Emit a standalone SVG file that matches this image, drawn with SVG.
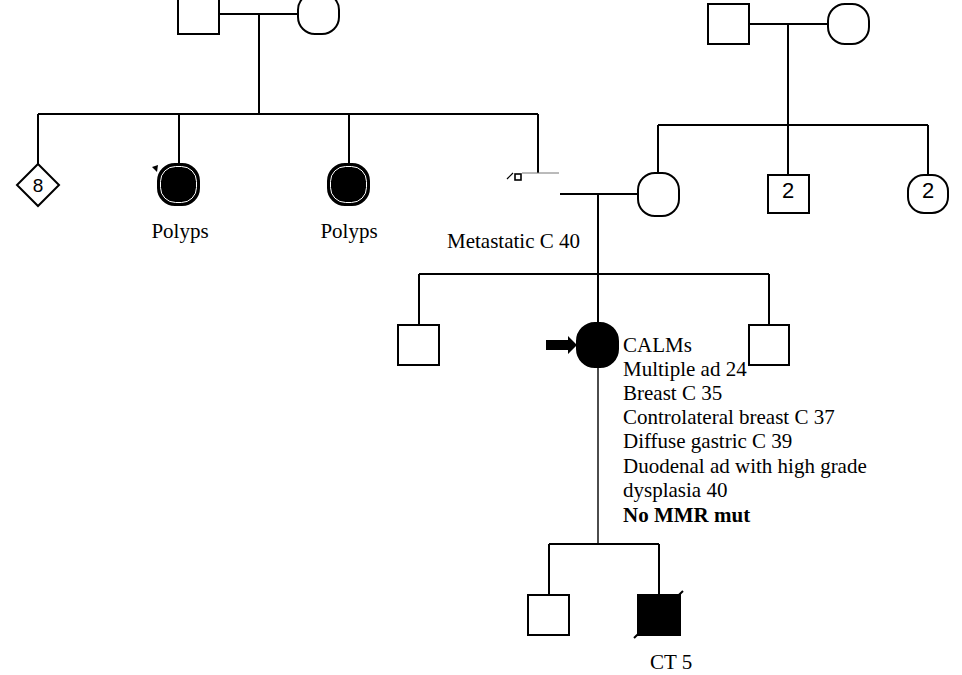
<svg xmlns="http://www.w3.org/2000/svg" width="962" height="675" viewBox="0 0 962 675">
<style>
.ln{stroke:#000;stroke-width:2;fill:none}
.thin{stroke:#000;stroke-width:1.4;fill:none}
.m{fill:#fff;stroke:#000;stroke-width:2}
.f{fill:#000;stroke:#000;stroke-width:2}
.t{font-family:"Liberation Serif","Times New Roman",serif;font-size:21px;fill:#000}
.s{font-family:"Liberation Sans",Arial,sans-serif;font-size:22px;fill:#000;text-anchor:middle}
</style>
<rect width="962" height="675" fill="#fff"/>
<g id="connectors">
<path class="ln" d="M219 14H298M259 14V114M38 114H538M38 114V164M179 114V164M349 114V164M538 114V173"/>
<path d="M522 173H559" stroke="#777" stroke-width="1"/>
<path class="ln" d="M560 194H638M598 194V323M419 274H769M419 274V325M769 274V325"/>
<path class="ln" d="M749 24H828M788 24V175M658 125H928M658 125V173M928 125V175"/>
<path class="thin" d="M598 367V544"/>
<path class="ln" d="M549 544H659M549 544V595M659 544V595"/>
</g>
<g id="gp1-father"><rect class="m" x="178" y="-7" width="41" height="41"/></g>
<g id="gp1-mother"><rect class="m" x="298" y="-7" width="41" height="41" rx="17"/></g>
<g id="gp2-father"><rect class="m" x="708" y="4" width="41" height="40"/></g>
<g id="gp2-mother"><rect class="m" x="828" y="4" width="41" height="40" rx="17"/></g>
<g id="sibs8"><path class="m" d="M38 164L59 185L38 206L17 185Z"/><text class="s" x="38" y="192" style="font-size:19px">8</text></g>
<g id="aunt1">
<path d="M152 167L158 165L157 172Z" fill="#000"/>
<rect class="f" x="158" y="164" width="41" height="41" rx="17"/>
<rect x="160.5" y="166.5" width="36" height="36" rx="15" fill="none" stroke="#fff" stroke-width="1"/>
<text class="t" x="180" y="238" text-anchor="middle">Polyps</text></g>
<g id="aunt2">
<rect class="f" x="328" y="164" width="41" height="41" rx="17"/>
<rect x="330.5" y="166.5" width="36" height="36" rx="15" fill="none" stroke="#fff" stroke-width="1"/>
<text class="t" x="349" y="238" text-anchor="middle">Polyps</text></g>
<g id="father">
<rect x="515" y="174" width="6" height="6" fill="#fff" stroke="#000" stroke-width="1.6"/>
<path d="M507 179L513 173" stroke="#000" stroke-width="1.2"/>
<text class="t" x="447" y="248">Metastatic C 40</text></g>
<g id="mother"><rect class="m" x="638" y="173" width="41" height="43" rx="17"/></g>
<g id="uncles2"><rect class="m" x="768" y="175" width="41" height="38"/><text class="s" x="788" y="198">2</text></g>
<g id="aunts2"><rect class="m" x="908" y="175" width="40" height="38" rx="16"/><text class="s" x="928" y="198">2</text></g>
<g id="brother1"><rect class="m" x="398" y="325" width="41" height="40"/></g>
<g id="brother2"><rect class="m" x="749" y="325" width="40" height="40"/></g>
<g id="proband">
<rect class="f" x="577" y="323" width="41" height="44" rx="18"/>
<path d="M546 340H568V336L577 345L568 354V350H546Z" fill="#000"/>
<text class="t" x="623" y="352">CALMs</text>
<text class="t" x="623" y="376">Multiple ad 24</text>
<text class="t" x="623" y="400">Breast C 35</text>
<text class="t" x="623" y="424">Controlateral breast C 37</text>
<text class="t" x="623" y="448">Diffuse gastric C 39</text>
<text class="t" x="623" y="473">Duodenal ad with high grade</text>
<text class="t" x="623" y="497">dysplasia 40</text>
<text class="t" x="623" y="522" font-weight="bold">No MMR mut</text></g>
<g id="son1"><rect class="m" x="528" y="595" width="41" height="40"/></g>
<g id="son2">
<path d="M634 638L683 591" stroke="#000" stroke-width="2"/>
<rect class="f" x="638" y="595" width="42" height="40"/>
<text class="t" x="650" y="669">CT 5</text></g>
</svg>
